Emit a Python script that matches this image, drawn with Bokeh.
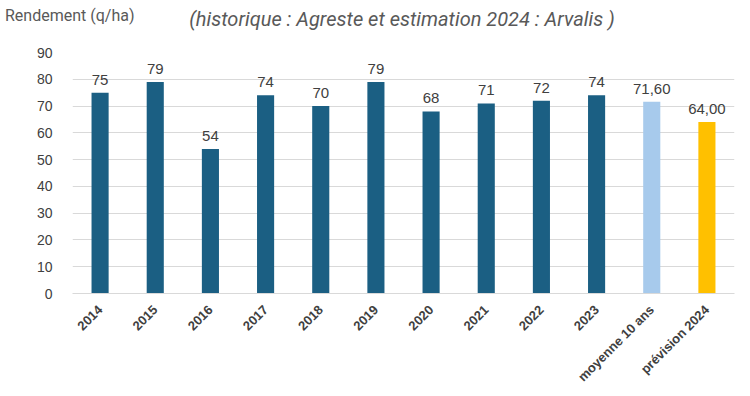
import math
from bokeh.plotting import figure
from bokeh.models import ColumnDataSource, FactorRange, Range1d, FixedTicker, Div
from bokeh.layouts import column
from bokeh.core.properties import value
from bokeh.embed import file_html
from bokeh.resources import INLINE

categories = ["2014", "2015", "2016", "2017", "2018", "2019", "2020", "2021", "2022", "2023",
              "moyenne 10 ans", "prévision 2024"]
rendement = [75, 79, 54, 74, 70, 79, 68, 71, 72, 74, 71.6, 64.0]
labels = ["75", "79", "54", "74", "70", "79", "68", "71", "72", "74", "71,60", "64,00"]
colors = ["#1B5F83"] * 10 + ["#A7CAEC", "#FFC000"]
y_ticks = [0, 10, 20, 30, 40, 50, 60, 70, 80, 90]
unit_label = "Rendement (q/ha)"
title_text = "(historique : Agreste et estimation 2024 : Arvalis )"

src = ColumnDataSource(dict(cat=categories, val=rendement, lab=labels, col=colors))

header = Div(width=750, height=42, margin=0, text=(
    '<div style="position:relative;width:750px;height:42px;">'
    '<span style="position:absolute;left:5px;top:5px;white-space:nowrap;'
    'font-family:Roboto;font-size:16px;color:#595959;">' + unit_label + '</span>'
    '<span style="position:absolute;left:0px;width:804px;text-align:center;top:5px;white-space:nowrap;'
    'font-family:Roboto;font-style:italic;font-size:20px;color:#595959;">' + title_text + '</span>'
    '</div>'))

p = figure(width=750, height=350, x_range=FactorRange(*categories, range_padding=0),
           y_range=Range1d(0, 90), output_backend="svg", toolbar_location=None,
           min_border_left=72, min_border_right=16, min_border_top=10, min_border_bottom=10)
p.outline_line_color = None
p.background_fill_color = "white"

p.vbar(x="cat", top="val", width=0.31, fill_color="col", line_color=None, source=src)
p.text(x="cat", y="val", text="lab", source=src, text_align="center", text_baseline="bottom",
       y_offset=-8, text_font=value("Liberation Sans"), text_font_size="15px", text_color="#404040")

p.xgrid.grid_line_color = None
p.ygrid.grid_line_color = "#D9D9D9"
p.ygrid.grid_line_width = 1

p.yaxis.ticker = FixedTicker(ticks=y_ticks)
p.yaxis.axis_line_color = None
p.yaxis.major_tick_line_color = None
p.yaxis.minor_tick_line_color = None
p.yaxis.major_label_text_font = "Liberation Sans"
p.yaxis.major_label_text_font_size = "14px"
p.yaxis.major_label_text_color = "#404040"
p.yaxis.major_label_standoff = 14

p.xaxis.axis_line_color = "#D9D9D9"
p.xaxis.major_tick_line_color = None
p.xaxis.minor_tick_line_color = None
p.xaxis.major_label_orientation = math.pi / 4
p.xaxis.major_label_text_font = "Liberation Sans"
p.xaxis.major_label_text_font_style = "bold"
p.xaxis.major_label_text_font_size = "13px"
p.xaxis.major_label_text_color = "#404040"
p.xaxis.major_label_standoff = 8

layout = column(header, p, spacing=0)
open("out.html", "w").write(file_html(layout, INLINE))
